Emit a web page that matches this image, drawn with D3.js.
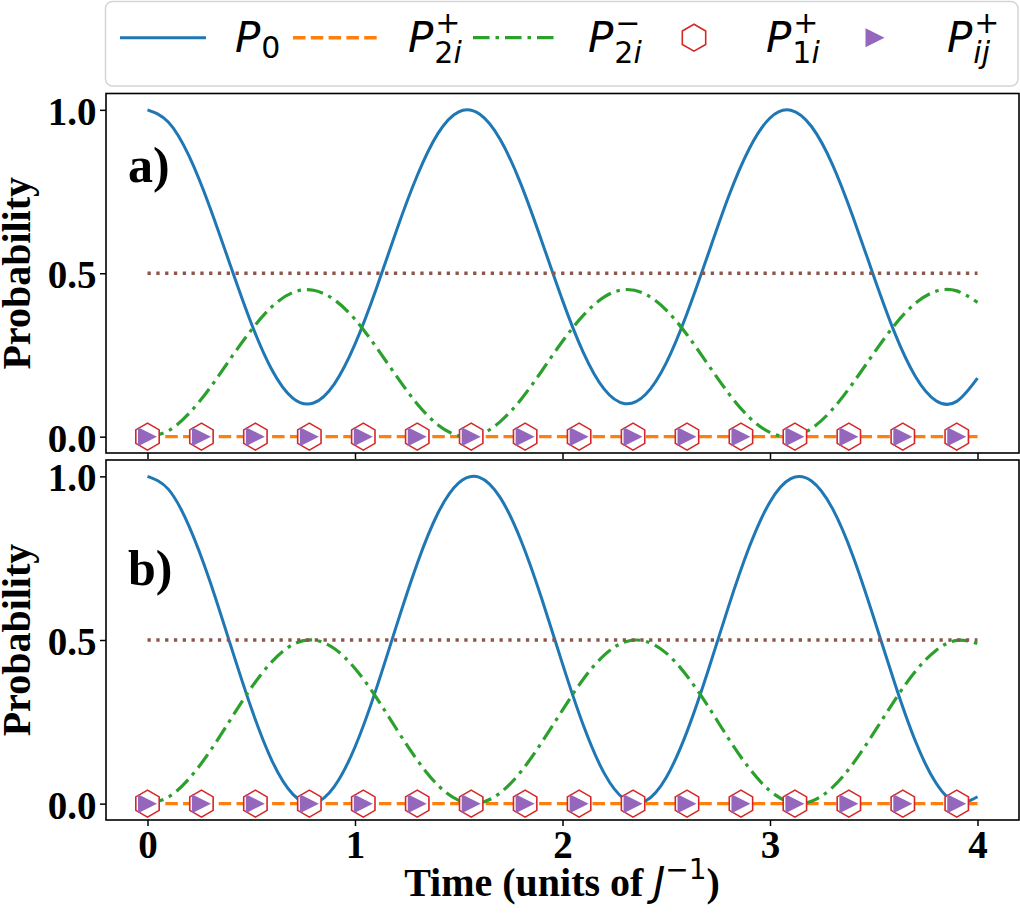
<!DOCTYPE html>
<html><head><meta charset="utf-8">
<script src="https://cdn.jsdelivr.net/npm/d3@7/dist/d3.min.js"></script>
<style>body{margin:0;background:#fff}</style>
</head><body><svg id="c" width="1020" height="918"></svg>
<script>
// ---------- data ----------
const times = [0.0,0.1,0.2,0.3,0.4,0.5,0.6,0.7,0.8,0.9,1.0,1.1,1.2,1.3,1.4,1.5,1.6,1.7,1.8,1.9,2.0,
               2.1,2.2,2.3,2.4,2.5,2.6,2.7,2.8,2.9,3.0,3.1,3.2,3.3,3.4,3.5,3.6,3.7,3.8,3.9,4.0];
// panel a)
const p0A = [1.000,0.963,0.859,0.703,0.523,0.347,0.204,0.118,0.103,0.161,0.283,0.448,0.631,0.799,0.928,0.994,
             0.987,0.909,0.772,0.598,0.417,0.258,0.146,0.101,0.129,0.226,0.377,0.555,0.734,0.881,0.975,
             0.999,0.949,0.834,0.672,0.491,0.319,0.185,0.110,0.108,0.179];
const p2iMinusA = [0.000,0.018,0.071,0.148,0.239,0.326,0.398,0.441,0.448,0.419,0.359,0.276,0.185,0.100,0.036,0.003,
             0.006,0.046,0.114,0.201,0.292,0.371,0.427,0.450,0.436,0.387,0.312,0.222,0.133,0.059,0.013,
             0.001,0.025,0.083,0.164,0.255,0.341,0.408,0.445,0.446,0.411];
// panel b)
const p0B = [1.000,0.961,0.848,0.681,0.485,0.292,0.131,0.029,0.001,0.052,0.173,0.346,0.544,0.734,0.888,0.980,
             0.997,0.935,0.804,0.626,0.427,0.240,0.094,0.013,0.008,0.080,0.220,0.403,0.602,0.784,0.922,
             0.993,0.986,0.903,0.756,0.568,0.370,0.192,0.063,0.003,0.021];
const p2iMinusB = [0.000,0.020,0.076,0.159,0.257,0.354,0.434,0.486,0.500,0.474,0.413,0.327,0.228,0.133,0.056,0.010,
             0.002,0.033,0.098,0.187,0.286,0.380,0.453,0.494,0.496,0.460,0.390,0.299,0.199,0.108,0.039,
             0.003,0.007,0.049,0.122,0.216,0.315,0.404,0.468,0.499,0.489];
// zero populations (both panels)
const p2iPlus = [0,0,0,0,0,0,0,0,0,0,0,0,0,0,0,0,0,0,0,0,0,0,0,0,0,0,0,0,0,0,0,0,0,0,0,0,0,0,0,0,0];
const markerTimes = [0,0.26,0.52,0.78,1.04,1.30,1.56,1.82,2.08,2.34,2.60,2.86,3.12,3.38,3.64,3.90];
const p1iPlus = [0,0,0,0,0,0,0,0,0,0,0,0,0,0,0,0];
const pijPlus = [0,0,0,0,0,0,0,0,0,0,0,0,0,0,0,0];
// reference level
const halfT = [0,4];
const halfV = [0.5,0.5];
// ticks & labels
const xTicks = [0,1,2,3,4];
const yTicks = [0.0,0.5,1.0];
const panelNames = ["a)","b)"];
const legendLabels = [
  {base:"P", sub:[["0",false]], sup:null},
  {base:"P", sub:[["2",false],["i",true]], sup:"+"},
  {base:"P", sub:[["2",false],["i",true]], sup:"\u2212"},
  {base:"P", sub:[["1",false],["i",true]], sup:"+"},
  {base:"P", sub:[["ij",true]], sup:"+"}
];

// ---------- styles ----------
const C = {blue:"#1f77b4", orange:"#ff7f0e", green:"#2ca02c", red:"#d62728", purple:"#9467bd", brown:"#8c564b"};
const SERIF = "'Liberation Serif','Times New Roman',Times,serif";
const SANS = "'DejaVu Sans',sans-serif";

const svg = d3.select("#c");
svg.append("rect").attr("width",1020).attr("height",918).attr("fill","#fff");

const x = d3.scaleLinear().domain([-0.2,4.2]).range([106,1019]);

const panels = [
  {top:93.5, bottom:453, p0:p0A, g:p2iMinusA, name:panelNames[0], labelBase:182, showX:false},
  {top:460, bottom:820, p0:p0B, g:p2iMinusB, name:panelNames[1], labelBase:585, showX:true}
];

function hexPath(r){
  const pts=[];
  for(let k=0;k<6;k++){const a=Math.PI/2+k*Math.PI/3; pts.push([r*Math.cos(a), -r*Math.sin(a)]);}
  return "M"+pts.map(p=>p[0].toFixed(2)+","+p[1].toFixed(2)).join("L")+"Z";
}
const triPath = "M-9.5,-9.5L9.5,0L-9.5,9.5Z";

panels.forEach((P,i)=>{
  const y = d3.scaleLinear().domain([-0.05,1.05]).range([P.bottom,P.top]);
  const g = svg.append("g");
  const cid = "clip"+i;
  svg.append("clipPath").attr("id",cid).append("rect")
     .attr("x",106).attr("y",P.top).attr("width",913).attr("height",P.bottom-P.top);
  const plot = g.append("g").attr("clip-path",`url(#${cid})`);
  const line = d3.line().x(d=>x(d[0])).y(d=>y(d[1])).curve(d3.curveNatural);
  const straight = d3.line().x(d=>x(d[0])).y(d=>y(d[1]));

  plot.append("path").attr("d",line(times.map((t,k)=>[t,P.p0[k]])))
      .attr("fill","none").attr("stroke",C.blue).attr("stroke-width",3);
  plot.append("path").attr("d",straight(times.map((t,k)=>[t,p2iPlus[k]])))
      .attr("fill","none").attr("stroke",C.orange).attr("stroke-width",3.4)
      .attr("stroke-dasharray","12.5,5.3");
  plot.append("path").attr("d",line(times.map((t,k)=>[t,P.g[k]])))
      .attr("fill","none").attr("stroke",C.green).attr("stroke-width",3.2)
      .attr("stroke-dasharray","16.5,6,3.5,6");
  plot.append("path").attr("d",straight(halfT.map((t,k)=>[t,halfV[k]])))
      .attr("fill","none").attr("stroke",C.brown).attr("stroke-width",3.3)
      .attr("stroke-dasharray","3.3,5.5");
  plot.selectAll(".hex").data(markerTimes.map((t,k)=>[t,p1iPlus[k]])).enter().append("path")
      .attr("d",hexPath(13.5)).attr("transform",d=>`translate(${x(d[0])},${y(d[1])})`)
      .attr("fill","#fff").attr("stroke",C.red).attr("stroke-width",1.6);
  plot.selectAll(".tri").data(markerTimes.map((t,k)=>[t,pijPlus[k]])).enter().append("path")
      .attr("d",triPath).attr("transform",d=>`translate(${x(d[0])},${y(d[1])})`)
      .attr("fill",C.purple);

  // axes
  const ya = g.append("g").attr("transform","translate(106,0)")
     .call(d3.axisLeft(y).tickValues(yTicks).tickFormat(d3.format(".1f")).tickSize(6).tickPadding(3.5));
  ya.select(".domain").remove();
  ya.selectAll("line").attr("stroke","#000").attr("stroke-width",1.5);
  ya.selectAll("text").attr("font-family",SERIF).attr("font-weight","bold").attr("font-size",39)
     .attr("fill","#000").attr("dy","0.37em");
  const xa = g.append("g").attr("transform",`translate(0,${P.bottom})`)
     .call(d3.axisBottom(x).tickValues(xTicks).tickFormat(P.showX?d3.format("d"):()=>"").tickSize(6).tickPadding(4));
  xa.select(".domain").remove();
  xa.selectAll("line").attr("stroke","#000").attr("stroke-width",1.5);
  xa.selectAll("text").attr("font-family",SERIF).attr("font-weight","bold").attr("font-size",39)
     .attr("fill","#000");

  g.append("rect").attr("x",106).attr("y",P.top).attr("width",913).attr("height",P.bottom-P.top)
     .attr("fill","none").attr("stroke","#000").attr("stroke-width",1.6);

  g.append("text").attr("x",128).attr("y",P.labelBase).text(P.name)
     .attr("font-family",SERIF).attr("font-weight","bold").attr("font-size",50);

  g.append("text").attr("transform",`translate(30,${(P.top+P.bottom)/2}) rotate(-90)`)
     .attr("text-anchor","middle").text("Probability")
     .attr("font-family",SERIF).attr("font-weight","bold").attr("font-size",40);
});

// x label
const xl = svg.append("text").attr("x",562).attr("y",896).attr("text-anchor","middle")
   .attr("font-family",SERIF).attr("font-weight","bold").attr("font-size",40);
xl.append("tspan").text("Time (units of ");
xl.append("tspan").attr("font-family",SANS).attr("font-weight","normal").attr("font-style","italic").text("J");
xl.append("tspan").attr("font-family",SANS).attr("font-weight","normal").attr("font-size",28).attr("dy",-17).text("\u22121");
xl.append("tspan").attr("dy",17).text(")");

// legend
const lg = svg.append("g");
lg.append("rect").attr("x",105.5).attr("y",1.5).attr("width",912.5).attr("height",84.5).attr("rx",7)
  .attr("fill","#fff").attr("stroke","#d5d5d5").attr("stroke-width",1.5);
const hs = [120,293,473,651,832], cy = 37.7, hl = 86;
lg.append("line").attr("x1",hs[0]).attr("x2",hs[0]+hl).attr("y1",cy).attr("y2",cy)
  .attr("stroke",C.blue).attr("stroke-width",3);
lg.append("line").attr("x1",hs[1]).attr("x2",hs[1]+hl).attr("y1",cy).attr("y2",cy)
  .attr("stroke",C.orange).attr("stroke-width",3.4).attr("stroke-dasharray","12.5,5.3");
lg.append("line").attr("x1",hs[2]).attr("x2",hs[2]+hl).attr("y1",cy).attr("y2",cy)
  .attr("stroke",C.green).attr("stroke-width",3.2).attr("stroke-dasharray","16.5,6,3.5,6");
lg.append("path").attr("d",hexPath(13.5)).attr("transform",`translate(${hs[3]+hl/2},${cy})`)
  .attr("fill","#fff").attr("stroke",C.red).attr("stroke-width",1.6);
lg.append("path").attr("d",triPath).attr("transform",`translate(${hs[4]+hl/2},${cy})`)
  .attr("fill",C.purple);

legendLabels.forEach((L,i)=>{
  const lx = hs[i]+115, base = 51.7;
  const t = lg.append("text").attr("x",lx).attr("y",base).attr("font-family",SANS)
     .attr("font-style","italic").attr("font-size",42).text(L.base);
  const w = t.node().getComputedTextLength();
  const subY = L.sup ? base+11.5 : base+6.6;
  const s = lg.append("text").attr("x",lx+w+1).attr("y",subY).attr("font-family",SANS).attr("font-size",30);
  L.sub.forEach(([txt,it])=>s.append("tspan").attr("font-style",it?"italic":"normal").text(txt));
  if(L.sup){
    lg.append("text").attr("x",lx+w+2).attr("y",base-18.5).attr("font-family",SANS).attr("font-size",30).text(L.sup);
  }
});
</script></body></html>
